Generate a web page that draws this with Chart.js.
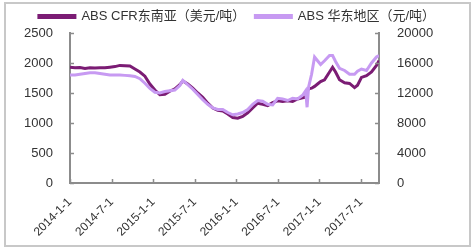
<!DOCTYPE html>
<html>
<head>
<meta charset="utf-8">
<script src="https://cdn.jsdelivr.net/npm/chart.js@4/dist/chart.umd.min.js"></script>
<style>
  body { margin: 0; background: #fff; }
  #frame { position: absolute; left: 4px; top: 2px; width: 463px; height: 241px; border: 2px solid #c8c8c8; }
  #wrap { position: absolute; left: 0; top: 0; width: 474px; height: 252px; }
</style>
</head>
<body>
<div id="frame"></div>
<div id="wrap"><canvas id="chart" width="474" height="252"></canvas></div>
<script>
// months since 2014-1-1
const months = [0, 0.72, 1.44, 2.16, 2.88, 3.6, 4.32, 5.04, 5.76, 6.48, 7.2, 7.93, 8.65, 9.37,
  10.09, 10.81, 11.53, 12.25, 12.97, 13.69, 14.41, 15.13, 15.85, 16.28, 17, 17.72, 18.44,
  19.16, 19.88, 20.61, 21.33, 22.05, 22.77, 23.49, 24.21, 24.93, 25.65, 26.37, 27.09, 27.81,
  28.53, 29.25, 29.97, 30.69, 31.41, 32.13, 32.85, 33.57, 34.01, 34.22, 34.44, 34.87, 35.3,
  35.73, 36.17, 36.74, 37.46, 37.9, 38.33, 38.9, 39.63, 40.35, 41.07, 41.5, 42.07, 42.8,
  43.52, 44.24, 44.6];

// ABS CFR 东南亚, USD/t (left axis)
const cfrSea = [1930, 1920, 1925, 1910, 1920, 1915, 1920, 1920, 1930, 1940, 1960, 1955, 1950, 1900,
  1850, 1780, 1650, 1550, 1470, 1480, 1530, 1570, 1640, 1700, 1650, 1580, 1500,
  1430, 1330, 1250, 1210, 1200, 1150, 1090, 1080, 1110, 1170, 1250, 1330, 1310,
  1290, 1340, 1370, 1360, 1370, 1360, 1400, 1420, 1430, 1520, 1570, 1580, 1610,
  1650, 1690, 1720, 1850, 1930, 1850, 1720, 1670, 1660, 1590, 1630, 1760, 1790,
  1850, 1960, 2040];

// ABS 华东地区, CNY/t (right axis)
const eastChina = [14400, 14400, 14500, 14600, 14700, 14700, 14600, 14500, 14400, 14400, 14400, 14350, 14300, 14200,
  13900, 13300, 12600, 12100, 12000, 12200, 12300, 12400, 13000, 13700, 13100, 12500, 11800,
  11100, 10500, 10000, 9800, 9800, 9400, 9100, 9200, 9400, 9800, 10500, 11000, 10900,
  10500, 10400, 11300, 11200, 11000, 11300, 11200, 11700, 12300, 10100, 12800, 14500, 16800,
  16300, 15800, 16300, 17000, 17000, 16200, 15300, 15000, 14500, 14500, 14900, 15200, 15000,
  16000, 16800, 17000];

const tickLabels = ['2014-1-1', '2014-7-1', '2015-1-1', '2015-7-1', '2016-1-1', '2016-7-1', '2017-1-1', '2017-7-1'];
const seriesNames = ['ABS CFR东南亚（美元/吨）', 'ABS 华东地区（元/吨）'];

const FONT = "'Liberation Sans', Arial, 'Noto Sans CJK SC', sans-serif";
const AXIS = '#8c8c8c';

// inward tick marks like the original
const innerTicks = {
  id: 'innerTicks',
  afterDraw(chart) {
    const ctx = chart.ctx;
    const { x, y, y1 } = chart.scales;
    ctx.save();
    ctx.strokeStyle = AXIS;
    ctx.lineWidth = 1.5;
    ctx.beginPath();
    x.ticks.forEach(t => {
      const px = Math.round(x.getPixelForValue(t.value)) + 0.5;
      ctx.moveTo(px, x.top); ctx.lineTo(px, x.top - 4);
    });
    y.ticks.forEach(t => {
      const py = Math.round(y.getPixelForValue(t.value)) + 0.5;
      ctx.moveTo(y.right, py); ctx.lineTo(y.right + 4, py);
    });
    y1.ticks.forEach(t => {
      const py = Math.round(y1.getPixelForValue(t.value)) + 0.5;
      ctx.moveTo(y1.left, py); ctx.lineTo(y1.left - 4, py);
    });
    ctx.stroke();
    ctx.restore();
  }
};

const ctx = document.getElementById('chart').getContext('2d');
new Chart(ctx, {
  type: 'line',
  data: {
    labels: months,
    datasets: [{
      label: seriesNames[0],
      data: months.map((m, i) => ({ x: m, y: cfrSea[i] })),
      borderColor: '#7b1c74',
      backgroundColor: '#7b1c74',
      borderWidth: 3,
      pointRadius: 0,
      tension: 0,
      yAxisID: 'y',
      order: 2
    }, {
      label: seriesNames[1],
      data: months.map((m, i) => ({ x: m, y: eastChina[i] })),
      borderColor: '#c79af2',
      backgroundColor: '#c79af2',
      borderWidth: 3,
      pointRadius: 0,
      tension: 0,
      yAxisID: 'y1',
      order: 1
    }]
  },
  options: {
    responsive: false,
    animation: false,
    layout: { padding: { top: 0, left: 0, right: 0, bottom: 0 } },
    plugins: {
      tooltip: { enabled: false },
      legend: {
        position: 'top',
        labels: {
          boxWidth: 36,
          boxHeight: 2,
          padding: 10,
          color: '#333',
          font: { family: FONT, size: 13 },
          sort: (a, b) => a.datasetIndex - b.datasetIndex
        }
      }
    },
    scales: {
      x: {
        type: 'linear',
        min: 0,
        max: 44.6,
        grid: { display: false },
        border: { color: AXIS, width: 2 },
        afterFit: s => { s.height = 69; },
        ticks: {
          stepSize: 6,
          includeBounds: false,
          autoSkip: false,
          maxRotation: 45,
          minRotation: 45,
          padding: 4,
          color: '#333',
          font: { family: FONT, size: 12 },
          callback: v => tickLabels[v / 6]
        }
      },
      y: {
        position: 'left',
        min: 0,
        max: 2500,
        grid: { display: false },
        border: { color: AXIS, width: 2 },
        afterFit: s => { s.width = 70; },
        ticks: {
          stepSize: 500,
          padding: 9,
          color: '#333',
          font: { family: FONT, size: 13 },
          callback: v => String(v)
        }
      },
      y1: {
        position: 'right',
        min: 0,
        max: 20000,
        grid: { display: false },
        border: { color: AXIS, width: 2 },
        afterFit: s => { s.width = 95; },
        ticks: {
          stepSize: 2000,
          padding: 10,
          color: '#333',
          font: { family: FONT, size: 13 },
          callback: v => String(v)
        }
      }
    }
  },
  plugins: [innerTicks]
});
</script>
</body>
</html>
